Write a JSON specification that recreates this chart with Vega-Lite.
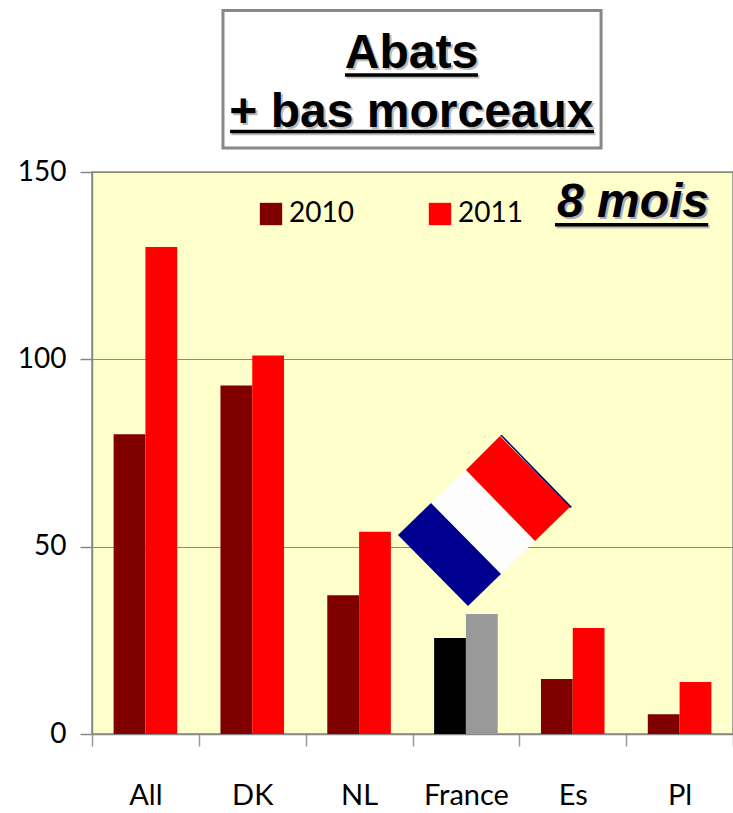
{
"$schema":"https://vega.github.io/schema/vega-lite/v6.json",
"width":641,"height":562,
"autosize":{"type":"none"},
"padding":{"left":92,"top":172,"right":0,"bottom":79},
"background":"white",
"config":{"view":{"fill":"#FFFFCC","stroke":"#888888","strokeWidth":1.5},"font":"Lato"},
"datasets":{
 "bars":[
  {"pays":"All","annee":"2010","serie":"2010","valeur":80},
  {"pays":"All","annee":"2011","serie":"2011","valeur":130},
  {"pays":"DK","annee":"2010","serie":"2010","valeur":93},
  {"pays":"DK","annee":"2011","serie":"2011","valeur":101},
  {"pays":"NL","annee":"2010","serie":"2010","valeur":37},
  {"pays":"NL","annee":"2011","serie":"2011","valeur":54},
  {"pays":"France","annee":"2010","serie":"France 2010","valeur":25.6},
  {"pays":"France","annee":"2011","serie":"France 2011","valeur":32},
  {"pays":"Es","annee":"2010","serie":"2010","valeur":14.7},
  {"pays":"Es","annee":"2011","serie":"2011","valeur":28.3},
  {"pays":"Pl","annee":"2010","serie":"2010","valeur":5.3},
  {"pays":"Pl","annee":"2011","serie":"2011","valeur":13.9}
 ],
 "titres":[
  {"texte":"Abats","u":2.99,"v":177.75},
  {"texte":"+ bas morceaux","u":2.99,"v":162}
 ],
 "soulignes":[
  {"u":2.382,"u2":3.627,"v":175.4,"k":"ombre"},
  {"u":1.306,"u2":4.713,"v":160.3,"k":"ombre"},
  {"u":4.348,"u2":5.782,"v":135.4,"k":"ombre"},
  {"u":2.368,"u2":3.613,"v":175.9,"k":"trait"},
  {"u":1.292,"u2":4.699,"v":160.8,"k":"trait"},
  {"u":4.334,"u2":5.768,"v":135.9,"k":"trait"}
 ],
 "drapeau":[
  {"bande":"bord","u":3.669,"v":56.85},
  {"bande":"bleu","u":3.669,"v":56.85},
  {"bande":"blanc","u":3.669,"v":56.85},
  {"bande":"rouge","u":3.669,"v":56.85}
 ]
},
"resolve":{"scale":{"x":"independent"},"axis":{"x":"independent"}},
"layer":[
 {
  "data":{"name":"bars"},
  "mark":{"type":"bar"},
  "encoding":{
   "x":{"field":"pays","type":"nominal","sort":["All","DK","NL","France","Es","Pl"],
    "scale":{"paddingInner":0,"paddingOuter":0},
    "axis":{"title":null,"labelAngle":0,"labelFontSize":29,"labelColor":"#000","labelPadding":35,"labelFont":"Lato",
     "tickSize":12,"tickColor":"#999999","tickWidth":1.5,"tickBand":"extent","domainColor":"#888888","domainWidth":1.5}},
   "xOffset":{"field":"annee","type":"nominal","scale":{"paddingInner":0,"paddingOuter":0.68}},
   "y":{"field":"valeur","type":"quantitative",
    "scale":{"domain":[0,150],"nice":false},
    "axis":{"title":null,"values":[0,50,100,150],"labelFontSize":28,"labelColor":"#000","labelPadding":14,"labelFont":"Lato",
     "tickSize":12,"tickColor":"#888888","tickWidth":1.5,"domainColor":"#888888","domainWidth":1.5,
     "grid":true,"gridColor":"#8C8C70","gridWidth":1}},
   "color":{"field":"serie","type":"nominal",
    "scale":{"domain":["2010","2011","France 2010","France 2011"],"range":["#800000","#FF0000","#000000","#999999"]},
    "legend":{"values":["2010","2011"],"title":null,"orient":"none","legendX":165,"legendY":28,"columns":2,"columnPadding":72,
     "symbolType":"square","symbolSize":500,"symbolStrokeWidth":0,"symbolOpacity":1,"labelFontSize":28,"labelFont":"Lato","labelColor":"#000","labelOffset":4}}
  }
 },
 {
  "data":{"name":"drapeau"},
  "mark":{"type":"point","filled":true,"size":4,"opacity":1,"strokeWidth":0},
  "encoding":{
   "x":{"field":"u","type":"quantitative","scale":{"domain":[0,6],"nice":false,"zero":false},"axis":null},
   "y":{"field":"v","type":"quantitative"},
   "order":{"field":"bande"},
   "shape":{"field":"bande","type":"nominal","legend":null,
    "scale":{"domain":["bord","bleu","blanc","rouge"],"range":[
     "M16,-86L18,-86L88,-14L86,-13Z",
     "M-86,14L-53,-18L17,53L-16,85Z",
     "M-53,-18L-18,-51L51,20L17,53Z",
     "M-18,-51L16,-85L86,-14L51,20Z"]}},
   "fill":{"field":"bande","type":"nominal","legend":null,
    "scale":{"domain":["bord","bleu","blanc","rouge"],"range":["#000066","#000090","#FDFDFD","#FF0000"]}}
  }
 },
 {
  "data":{"values":[{"u":1.226,"u2":4.765,"v":193.1,"v2":156.4}]},
  "mark":{"type":"rect","fill":"white","stroke":"#888888","strokeWidth":3,"clip":false},
  "encoding":{
   "x":{"field":"u","type":"quantitative","scale":{"domain":[0,6],"nice":false,"zero":false},"axis":null},
   "x2":{"field":"u2"},
   "y":{"field":"v","type":"quantitative"},
   "y2":{"field":"v2"}
  }
 },
 {
  "data":{"name":"soulignes"},
  "mark":{"type":"rule","strokeWidth":3.5},
  "encoding":{
   "x":{"field":"u","type":"quantitative","scale":{"domain":[0,6],"nice":false,"zero":false},"axis":null},
   "x2":{"field":"u2"},
   "y":{"field":"v","type":"quantitative"},
   "order":{"field":"k","sort":"ascending"},
   "color":{"condition":{"test":"datum.k==='ombre'","value":"#BBBBBB"},"value":"#000000"}
  }
 },
 {
  "data":{"name":"titres"},
  "mark":{"type":"text","font":"Liberation Sans","fontWeight":"bold","fontSize":48,"color":"#BBBBBB","baseline":"alphabetic","dx":2,"dy":2},
  "encoding":{
   "x":{"field":"u","type":"quantitative","scale":{"domain":[0,6],"nice":false,"zero":false},"axis":null},
   "y":{"field":"v","type":"quantitative"},
   "text":{"field":"texte"}
  }
 },
 {
  "data":{"name":"titres"},
  "mark":{"type":"text","font":"Liberation Sans","fontWeight":"bold","fontSize":48,"color":"#000000","baseline":"alphabetic"},
  "encoding":{
   "x":{"field":"u","type":"quantitative","scale":{"domain":[0,6],"nice":false,"zero":false},"axis":null},
   "y":{"field":"v","type":"quantitative"},
   "text":{"field":"texte"}
  }
 },
 {
  "data":{"values":[{"texte":"8 mois","u":5.064,"v":138}]},
  "mark":{"type":"text","font":"Liberation Sans","fontWeight":"bold","fontStyle":"italic","fontSize":48,"color":"#AAAABB","baseline":"alphabetic","dx":2,"dy":2},
  "encoding":{
   "x":{"field":"u","type":"quantitative","scale":{"domain":[0,6],"nice":false,"zero":false},"axis":null},
   "y":{"field":"v","type":"quantitative"},
   "text":{"field":"texte"}
  }
 },
 {
  "data":{"values":[{"texte":"8 mois","u":5.064,"v":138}]},
  "mark":{"type":"text","font":"Liberation Sans","fontWeight":"bold","fontStyle":"italic","fontSize":48,"color":"#000000","baseline":"alphabetic"},
  "encoding":{
   "x":{"field":"u","type":"quantitative","scale":{"domain":[0,6],"nice":false,"zero":false},"axis":null},
   "y":{"field":"v","type":"quantitative"},
   "text":{"field":"texte"}
  }
 }
]
}
